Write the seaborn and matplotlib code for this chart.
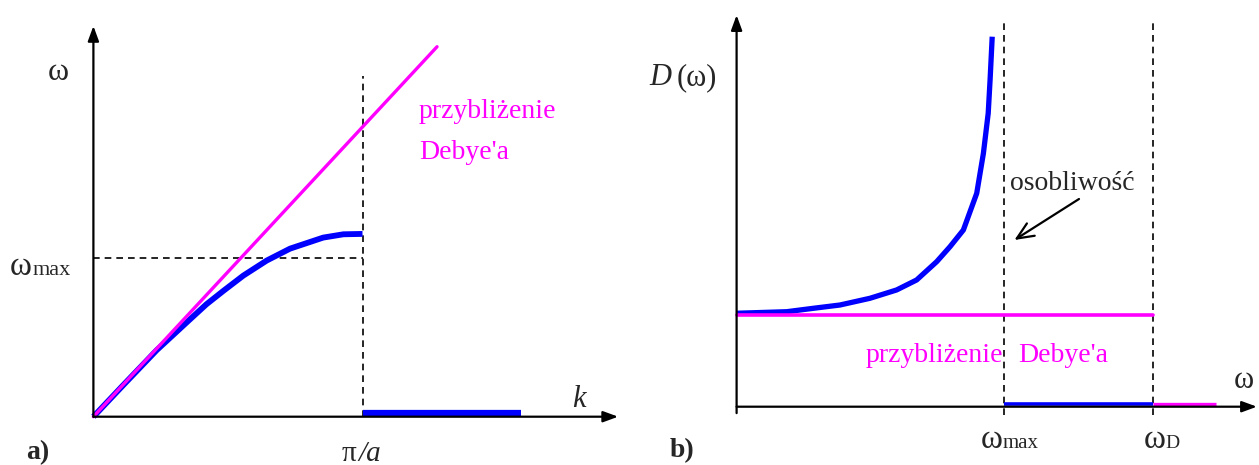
import matplotlib
matplotlib.use("Agg")
import matplotlib.pyplot as plt
import seaborn as sns

# ---------------- data ----------------
# panel a: dispersion relation, k in units of pi/a, omega in units of its value at pi/a
k_disp = [0.0, 0.111, 0.235, 0.300, 0.359, 0.420, 0.483, 0.557, 0.644, 0.731, 0.854, 0.929, 1.0]
w_disp = [0.0, 0.172, 0.362, 0.450, 0.530, 0.612, 0.685, 0.768, 0.850, 0.915, 0.975, 0.993, 0.995]
k_debye = [0.0, 1.277]
w_debye = [0.0, 2.014]
k_zero = [1.0, 1.589]
w_zero = [0.02, 0.02]
w_max_level = 0.864

# panel b: density of states, omega in units of omega_max, D in units of Debye level
om_dos = [0.0, 0.188, 0.287, 0.387, 0.499, 0.599, 0.674, 0.749, 0.799,
          0.849, 0.899, 0.924, 0.942, 0.949, 0.957]
d_dos = [1.019, 1.036, 1.073, 1.109, 1.182, 1.273, 1.382, 1.581, 1.745,
         1.927, 2.327, 2.763, 3.200, 3.563, 4.035]
om_D = 1.558
om_debye = [0.0, om_D]
d_debye = [1.0, 1.0]
om_zero_blue = [1.0, om_D]
om_zero_mag = [om_D, 1.796]
d_zero = [0.03, 0.03]

BLUE = "#0000FF"
MAG = "#FF00FF"

# ---------------- figure ----------------
W, H = 1259, 465
sns.set_style("white")
plt.rcParams["font.family"] = ["Liberation Serif", "DejaVu Serif"]
fig = plt.figure(figsize=(W / 100, H / 100), dpi=100)


def ftext(px, py, s, **kw):
    fig.text(px / W, 1 - py / H, s, va="baseline", **kw)


# panel a axes: origin at pixel (93.4, 416.7); scale 269.1 px / unit x, 183.7 px / unit y
ax_a = fig.add_axes([0, 0, 630 / W, 1])
ox, oy, sx, sy = 93.4, 416.7, 269.1, 183.7
ax_a.set_xlim(-ox / sx, (630 - ox) / sx)
ax_a.set_ylim((oy - H) / sy, oy / sy)
ax_a.axis("off")

arrow_kw = dict(arrowstyle="-|>,head_length=0.6,head_width=0.22", color="black",
                lw=1.6, mutation_scale=15, shrinkA=0, shrinkB=0)
ax_a.annotate("", xy=(1.95, 0), xytext=(0, 0), arrowprops=arrow_kw)
ax_a.annotate("", xy=(0, 2.127), xytext=(0, 0), arrowprops=arrow_kw)

ax_a.plot([1, 1], [0, 1.855], color="black", lw=1.2, ls=(0, (4, 3)))
ax_a.plot([0, 1], [w_max_level, w_max_level], color="black", lw=1.2, ls=(0, (4, 3)))

sns.lineplot(x=k_disp, y=w_disp, ax=ax_a, color=BLUE, lw=4.2, sort=False,
             estimator=None, solid_capstyle="butt", solid_joinstyle="round")
sns.lineplot(x=k_zero, y=w_zero, ax=ax_a, color=BLUE, lw=4.5, sort=False,
             estimator=None, solid_capstyle="butt")
sns.lineplot(x=k_debye, y=w_debye, ax=ax_a, color=MAG, lw=2.4, sort=False,
             estimator=None)

ftext(48, 80, "ω", fontsize=23)
ftext(10, 275, "ω", fontsize=24)
ftext(33, 275, "max", fontsize=16)
ftext(572, 407, "k", fontsize=22, style="italic")
ftext(342, 461, "π", fontsize=21)
ftext(358, 461, "/a", fontsize=21, style="italic")
ftext(26, 459, "a)", fontsize=20, weight="bold")
ftext(419, 118, "przybliżenie", fontsize=20, color=MAG)
ftext(419, 159, "Debye'a", fontsize=20, color=MAG)

# panel b axes: origin at pixel (736.6, 406.7); scale 267.1 px / unit x, 91.7 px / unit y
ax_b = fig.add_axes([640 / W, 0, (W - 640) / W, 1])
ox, oy, sx, sy = 736.6 - 640, 406.7, 267.1, 91.7
ax_b.set_xlim(-ox / sx, (W - 640 - ox) / sx)
ax_b.set_ylim((oy - H) / sy, oy / sy)
ax_b.axis("off")

ax_b.annotate("", xy=(1.948, 0), xytext=(0, 0), arrowprops=arrow_kw)
ax_b.annotate("", xy=(0, 4.27), xytext=(0, -0.07), arrowprops=arrow_kw)

for xv in [1.0, om_D]:
    ax_b.plot([xv, xv], [-0.09, 4.2], color="black", lw=1.2, ls=(0, (4, 3)))

sns.lineplot(x=om_dos, y=d_dos, ax=ax_b, color=BLUE, lw=3.8, sort=False,
             estimator=None, solid_capstyle="butt", solid_joinstyle="round")
sns.lineplot(x=om_zero_blue, y=d_zero, ax=ax_b, color=BLUE, lw=2.6, sort=False,
             estimator=None, solid_capstyle="butt")
sns.lineplot(x=om_debye, y=d_debye, ax=ax_b, color=MAG, lw=2.6, sort=False,
             estimator=None)
sns.lineplot(x=om_zero_mag, y=d_zero, ax=ax_b, color=MAG, lw=2.4, sort=False,
             estimator=None, solid_capstyle="butt")

ftext(649, 85, "D", fontsize=22, style="italic")
ftext(677, 85, "(ω)", fontsize=22)
ftext(1010, 190, "osobliwość", fontsize=20)
ax_b.annotate("", xy=(1014.4 / W, 1 - 240 / H), xytext=(1079 / W, 1 - 199 / H),
              xycoords="figure fraction", textcoords="figure fraction",
              arrowprops=dict(arrowstyle="->,head_length=0.8,head_width=0.35",
                              color="black", lw=1.6, mutation_scale=15,
                              shrinkA=0, shrinkB=0))
ftext(866, 362, "przybliżenie", fontsize=20, color=MAG)
ftext(1018, 362, "Debye'a", fontsize=20, color=MAG)
ftext(1234, 388, "ω", fontsize=22)
ftext(981, 448, "ω", fontsize=24)
ftext(1003, 448, "max", fontsize=15)
ftext(1144, 448, "ω", fontsize=24)
ftext(1165, 448, "D", fontsize=14)
ftext(670, 457, "b)", fontsize=20, weight="bold")

fig.savefig("out.png", dpi=100)
